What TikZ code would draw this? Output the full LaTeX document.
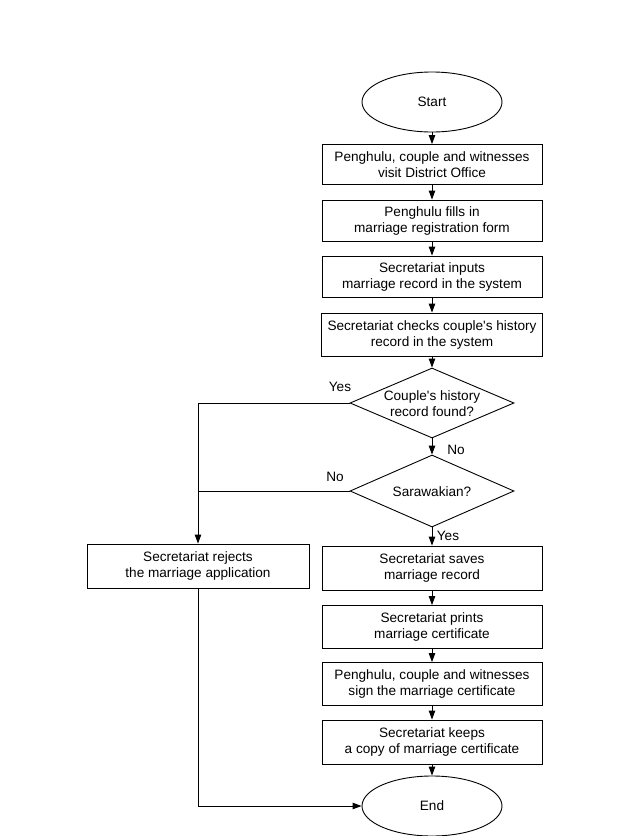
\documentclass[tikz,border=0pt]{standalone}
\usepackage{fontspec}
\setmainfont{Liberation Sans}
\usetikzlibrary{shapes.geometric,arrows.meta}
\begin{document}
\begin{tikzpicture}[x=1pt,y=-1pt,
  every node/.style={font=\fontsize{13.6}{16}\selectfont},
  box/.style={draw, line width=0.9pt, rectangle, minimum width=220pt, minimum height=42pt, inner sep=0pt, align=center},
  term/.style={draw, line width=0.9pt, ellipse, minimum width=140pt, minimum height=60pt, inner sep=0pt},
  decision/.style={draw, line width=0.9pt, diamond, minimum width=164pt, minimum height=70pt, inner sep=0pt},
  txt/.style={align=center, inner sep=0pt},
  flow/.style={line width=0.9pt, -{Triangle[length=9pt,width=6.5pt]}},
  plain/.style={line width=0.9pt}
]
\useasboundingbox (0,0) rectangle (617,836);
\node[term] (start) at (432,102) {Start};
\node[box, minimum height=40pt] (b1) at (432,164.5) {Penghulu, couple and witnesses\\visit District Office};
\node[box, minimum height=41pt] (b2) at (432,220.5) {Penghulu fills in\\marriage registration form};
\node[box, minimum height=41pt] (b3) at (432,276.5) {Secretariat inputs\\marriage record in the system};
\node[box, minimum width=221pt, minimum height=43pt] (b4) at (432,334.5) {Secretariat checks couple\textquotesingle s history\\record in the system};
\node[decision] (d1) at (432,403) {};
\node[txt] (d1t) at (432,404) {Couple\textquotesingle s history\\record found?};
\node[decision, minimum height=72pt] (d2) at (432,491) {};
\node[txt] (d2t) at (432,492) {Sarawakian?};
\node[box, minimum width=222pt, minimum height=44pt] (rej) at (198,566) {Secretariat rejects\\the marriage application};
\node[box, minimum height=44pt] (save) at (432,568) {Secretariat saves\\marriage record};
\node[box, minimum height=43pt] (print) at (432,627) {Secretariat prints\\marriage certificate};
\node[box, minimum height=43pt] (sign) at (432,684) {Penghulu, couple and witnesses\\sign the marriage certificate};
\node[box, minimum height=44pt] (keep) at (432,742) {Secretariat keeps\\a copy of marriage certificate};
\node[term] (end) at (432,806) {End};

\node[txt] (ly1) at (340,387) {Yes};
\node[txt] (ln1) at (456,450) {No};
\node[txt] (ln2) at (335,477) {No};
\node[txt] (ly2) at (448,536) {Yes};

\draw[flow] (start) -- (b1);
\draw[flow] (b1) -- (b2);
\draw[flow] (b2) -- (b3);
\draw[flow] (b3) -- (b4);
\draw[flow] (b4) -- (d1);
\draw[flow] (d1) -- (d2);
\draw[flow] (d2) -- (save);
\draw[flow] (save) -- (print);
\draw[flow] (print) -- (sign);
\draw[flow] (sign) -- (keep);
\draw[flow] (keep) -- (end);
\draw[flow] (d1.west) -- (d1.west -| rej.north) -- (rej.north);
\draw[plain] (d2.west) -- (d2.west -| rej.north);
\draw[flow] (rej.south) |- (end.west);
\end{tikzpicture}
\end{document}
